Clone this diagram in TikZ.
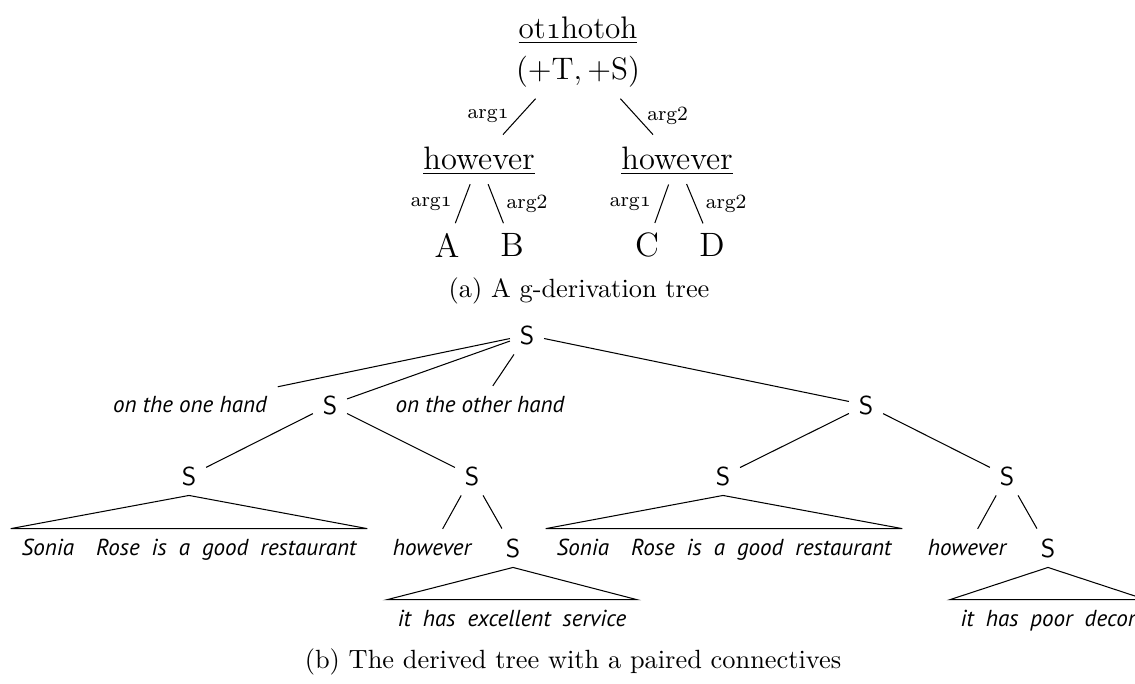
\documentclass[tikz,border=0pt]{standalone}
\usepackage{fontspec}
\newfontfamily\ptsans{PT Sans}
\usetikzlibrary{calc}
\newcommand\wg{\hspace{4.6pt}}
\newcommand\osone{$\mathnormal{1}$}
\tikzset{
  topn/.style={font=\fontsize{12}{15.8}\selectfont, inner sep=0pt, align=center},
  midn/.style={font=\fontsize{12.5}{15}\selectfont, inner sep=0pt},
  leaf/.style={font=\fontsize{13}{15}\selectfont, inner sep=0pt},
  lab/.style={font=\fontsize{7.8}{9}\selectfont, inner sep=4pt},
  snode/.style={font=\fontsize{10}{12}\selectfont\sffamily, inner sep=3.6pt},
  word/.style={font=\fontsize{8.9}{10}\selectfont\ptsans\itshape, inner sep=4pt},
  capt/.style={font=\fontsize{10.15}{12}\selectfont, inner sep=0pt},
  upedge/.style={shorten <=24.3pt, shorten >=13.7pt},
  loedge/.style={shorten <=9.6pt, shorten >=9pt}
}
\begin{document}
\begin{tikzpicture}[x=0.385pt,y=-0.385pt,line width=0.4pt]
\useasboundingbox (0,0) rectangle (1135,684);
\clip (0,0) rectangle (1135,684);
% ---- (a) g-derivation tree
\node[topn] (r) at (578,52) {\underline{ot\osone hotoh}\\$(+\mathrm{T},+\mathrm{S})$};
\node[midn] (h1) at (479,161) {\underline{however}};
\node[midn] (h2) at (677,161) {\underline{however}};
\node[leaf] (A) at (447,245) {A};
\node[leaf] (B) at (512,245) {B};
\node[leaf] (C) at (647,245) {C};
\node[leaf] (D) at (712,245) {D};
\draw[upedge] (r.center) -- node[lab,pos=0.59,left]{arg\osone} (h1.center);
\draw[upedge] (r.center) -- node[lab,pos=0.59,right]{arg2} (h2.center);
\draw[loedge] (h1.center) -- node[lab,pos=0.51,left]{arg\osone} (A.center);
\draw[loedge] (h1.center) -- node[lab,pos=0.51,right]{arg2} (B.center);
\draw[loedge] (h2.center) -- node[lab,pos=0.51,left]{arg\osone} (C.center);
\draw[loedge] (h2.center) -- node[lab,pos=0.51,right]{arg2} (D.center);
\node[capt,anchor=base] (capa) at (579,298) {(a) A g-derivation tree};
% ---- (b) derived tree
\node[snode] (s0) at (527,335) {S};
\node[word] (w1) at (190,405) {on the one hand};
\node[snode] (s1) at (330,405) {S};
\node[word] (w2) at (480,405) {on the other hand};
\node[snode] (s2) at (866,405) {S};
\node[snode] (s11) at (189,476) {S};
\node[snode] (s12) at (472,476) {S};
\node[snode] (s21) at (723,476) {S};
\node[snode] (s22) at (1007,476) {S};
\node[word,anchor=base] (t11) at (189,556) {Sonia\hspace{8.5pt}Rose\wg is\wg a\wg good\wg restaurant};
\node[word,anchor=base] (h12) at (432,556) {however};
\node[snode] (s121) at (513,548) {S};
\node[word,anchor=base] (t21) at (724,556) {Sonia\hspace{8.5pt}Rose\wg is\wg a\wg good\wg restaurant};
\node[word,anchor=base] (h22) at (967,556) {however};
\node[snode] (s221) at (1048,548) {S};
\node[word,anchor=base] (t121) at (512,627) {it\wg has\wg excellent\wg service};
\node[word,anchor=base] (t221) at (1048,627) {it\wg has\wg poor\wg decor};
\draw (s0) -- (w1);
\draw (s0) -- (s1);
\draw (s0) -- (w2);
\draw (s0) -- (s2);
\draw (s1) -- (s11);
\draw (s1) -- (s12);
\draw (s2) -- (s21);
\draw (s2) -- (s22);
\draw (s12) -- (h12);
\draw (s12) -- (s121);
\draw (s22) -- (h22);
\draw (s22) -- (s221);
\draw (s11.south) -- (t11.north west) -- (t11.north east) -- cycle;
\draw (s21.south) -- (t21.north west) -- (t21.north east) -- cycle;
\draw (s121.south) -- (t121.north west) -- (t121.north east) -- cycle;
\draw (s221.south) -- (t221.north west) -- (t221.north east) -- cycle;
\node[capt,anchor=base] (capb) at (573,669) {(b) The derived tree with a paired connectives};
\end{tikzpicture}
\end{document}
